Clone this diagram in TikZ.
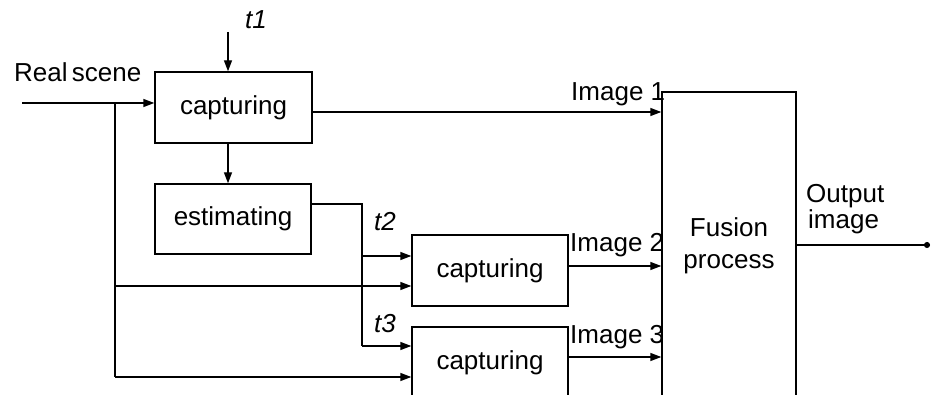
\documentclass[tikz,border=0pt]{standalone}
\usepackage{fontspec}
\setmainfont{Liberation Sans}
\usetikzlibrary{arrows.meta}
\begin{document}
\begin{tikzpicture}[x=1pt,y=-1pt,
  every node/.style={font=\fontsize{26}{32}\selectfont},
  blk/.style={draw, line width=1.4pt, inner sep=0pt, minimum width=157pt, minimum height=71pt},
  conn/.style={line width=1.4pt},
  arr/.style={conn, -{Triangle[length=11pt,width=8pt]}},
  lbl/.style={anchor=base west, inner sep=0pt}]
\useasboundingbox (0,0) rectangle (932,395);
\clip (0,0) rectangle (932,395);
% blocks
\node[blk] (cap1) at (233.5,107.5) {capturing};
\node[blk, minimum width=156pt, minimum height=70pt] (est) at (233,219) {estimating};
\node[blk, minimum width=156pt] (cap2) at (490,270.5) {capturing};
\node[blk, minimum width=156pt] (cap3) at (490,362.5) {capturing};
\node[blk, minimum width=134pt, minimum height=308pt, align=center] (fus) at (729,246) {Fusion\\process};
% labels
\node[lbl] (lreal) at (14,82) {Real\,scene};
\node[lbl] (lt1) at (245,29) {\itshape t1};
\node[lbl] (lt2) at (374,231) {\itshape t2};
\node[lbl] (lt3) at (374,333) {\itshape t3};
\node[lbl] (li1) at (571,101) {Image 1};
\node[lbl] (li2) at (570,252) {Image 2};
\node[lbl] (li3) at (570,344) {Image 3};
\node[lbl] (lout1) at (806,203) {Output};
\node[lbl] (lout2) at (808,229) {image};
% coordinates
\coordinate (in) at (22,103);
\coordinate (br1) at (115,103);
\coordinate (br2) at (115,286);
\coordinate (br3) at (115,377);
\coordinate (t1top) at (228,32);
\coordinate (e1) at (362,204);
\coordinate (e2) at (362,256);
\coordinate (e3) at (362,346);
\coordinate (y1) at (0,112);
\coordinate (y2) at (0,266);
\coordinate (y3) at (0,357);
\coordinate (out) at (930,245);
% connectors
\draw[arr] (in) -- (cap1.west |- in);
\draw[arr] (t1top) -- (t1top |- cap1.north);
\draw[arr] (t1top |- cap1.south) -- (t1top |- est.north);
\draw[arr] (cap1.east |- y1) -- (fus.west |- y1);
\draw[conn] (est.east |- e1) -- (e1) -- (e3);
\draw[arr] (e2) -- (cap2.west |- e2);
\draw[arr] (e3) -- (cap3.west |- e3);
\draw[conn] (br1) -- (br3);
\draw[arr] (br2) -- (cap2.west |- br2);
\draw[arr] (br3) -- (cap3.west |- br3);
\draw[arr] (cap2.east |- y2) -- (fus.west |- y2);
\draw[arr] (cap3.east |- y3) -- (fus.west |- y3);
\draw[conn, -{Circle[length=6pt]}] (fus.east |- out) -- (out);
\end{tikzpicture}
\end{document}
